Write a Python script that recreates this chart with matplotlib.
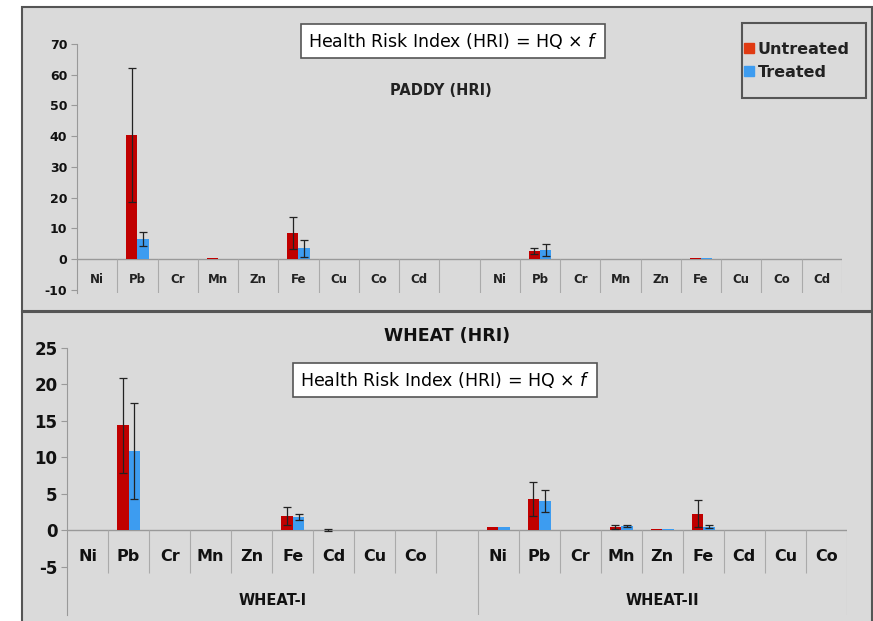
import numpy as np
import matplotlib
matplotlib.use("Agg")
import matplotlib.pyplot as plt
from matplotlib.patches import Rectangle, Patch

plt.rcParams['axes.unicode_minus'] = False

# ---- data ----
paddy_labels = ['Ni', 'Pb', 'Cr', 'Mn', 'Zn', 'Fe', 'Cu', 'Co', 'Cd']
paddy1_untreated = [0, 40.5, 0.1, 0.3, 0.1, 8.5, 0.1, 0, 0]
paddy1_untreated_err = [0, 21.8, 0, 0, 0, 5.2, 0, 0, 0]
paddy1_treated = [0, 6.7, 0.05, 0.2, 0.1, 3.5, 0, 0, 0]
paddy1_treated_err = [0, 2.3, 0, 0, 0, 2.7, 0, 0, 0]
paddy2_untreated = [0.1, 2.7, 0, 0.1, 0.1, 0.5, 0, 0, 0]
paddy2_untreated_err = [0, 1.0, 0, 0, 0, 0, 0, 0, 0]
paddy2_treated = [0.1, 2.9, 0, 0.1, 0.1, 0.3, 0, 0, 0]
paddy2_treated_err = [0, 1.9, 0, 0, 0, 0, 0, 0, 0]

wheat_labels = ['Ni', 'Pb', 'Cr', 'Mn', 'Zn', 'Fe', 'Cd', 'Cu', 'Co']
wheat_groups = ['WHEAT-I', 'WHEAT-II']
wheat1_untreated = [0, 14.4, 0, 0.05, 0.1, 2.0, 0.05, 0, 0]
wheat1_untreated_err = [0, 6.5, 0, 0, 0, 1.2, 0.2, 0, 0]
wheat1_treated = [0, 10.9, 0, 0.05, 0.1, 1.8, 0, 0, 0]
wheat1_treated_err = [0, 6.6, 0, 0, 0, 0.4, 0, 0, 0]
wheat2_untreated = [0.5, 4.3, 0, 0.5, 0.15, 2.3, 0, 0, 0]
wheat2_untreated_err = [0, 2.3, 0, 0.3, 0, 1.8, 0, 0, 0]
wheat2_treated = [0.5, 4.0, 0, 0.6, 0.15, 0.5, 0, 0, 0]
wheat2_treated_err = [0, 1.5, 0, 0.2, 0, 0.2, 0, 0, 0]

RED = '#c00000'
BLUE = '#3d9cf0'
BG = '#dadada'
EDGE = '#555555'
FORMULA = r'Health Risk Index (HRI) = HQ $\times$ $\mathit{f}$'

W, H = 873, 621
fig = plt.figure(figsize=(W / 100, H / 100), dpi=100)


def px_rect(x0, y0, x1, y1):
    return [x0 / W, 1 - y1 / H, (x1 - x0) / W, (y1 - y0) / H]


def fig_box(x0, y0, x1, y1, face, lw, z):
    r = px_rect(x0, y0, x1, y1)
    fig.patches.append(Rectangle((r[0], r[1]), r[2], r[3], transform=fig.transFigure,
                                 facecolor=face, edgecolor=EDGE, lw=lw, zorder=z))


# panel backgrounds
fig_box(22, 7, 872, 311, BG, 1.5, -5)
fig_box(22, 312, 872, 630, BG, 1.5, -5)
# legend frame
fig_box(742, 23, 866, 98, 'none', 1.5, 1)


def draw_bars(ax, untr, untr_err, tr, tr_err, offset):
    w = 0.28
    x = np.arange(len(untr)) + offset + 0.5
    ax.bar(x - w / 2, untr, w, color=RED, zorder=3)
    ax.bar(x + w / 2, tr, w, color=BLUE, zorder=3)
    for xs, v, e in [(x - w / 2, untr, untr_err), (x + w / 2, tr, tr_err)]:
        v = np.array(v); e = np.array(e)
        m = e > 0
        ax.errorbar(xs[m], v[m], yerr=e[m], fmt='none', ecolor='#222222',
                    elinewidth=0.9, capsize=3, capthick=0.9, zorder=4)


def style_axis(ax, ylim, yticks, fs):
    ax.set_facecolor('none')
    ax.set_xlim(0, 19)
    ax.set_ylim(*ylim)
    ax.set_yticks(list(yticks), labels=[str(v) for v in yticks],
                  fontweight='bold', fontsize=fs, color='#111111')
    ax.set_xticks([])
    for s in ['top', 'right', 'bottom']:
        ax.spines[s].set_visible(False)
    ax.spines['left'].set_color('#999999')
    ax.tick_params(axis='y', length=4, color='#999999', pad=3)
    ax.axhline(0, color='#999999', lw=1, zorder=2)


# ---- top panel: paddy ----
ax1 = fig.add_axes(px_rect(77, 44, 842, 293))
style_axis(ax1, (-11, 70), range(-10, 71, 10), 9)
draw_bars(ax1, paddy1_untreated, paddy1_untreated_err, paddy1_treated, paddy1_treated_err, 0)
draw_bars(ax1, paddy2_untreated, paddy2_untreated_err, paddy2_treated, paddy2_treated_err, 10)
ax1.vlines(np.arange(1, 20), -11, 0, color='#aaaaaa', lw=0.8)
for i, lab in enumerate(paddy_labels):
    for off in (0, 10):
        ax1.text(i + off + 0.5, -6.5, lab, ha='center', va='center',
                 fontsize=8.5, fontweight='bold', color='#222222')
ax1.text(0.475, 0.815, 'PADDY (HRI)', transform=ax1.transAxes, ha='center', va='center',
         fontsize=10.5, fontweight='bold', color='#222222')
fig.text(453 / W, 1 - 41 / H, FORMULA, ha='center', va='center', fontsize=12.5,
         bbox=dict(boxstyle='square,pad=0.4', facecolor='white', edgecolor=EDGE, lw=1.2))

handles = [Patch(color='#e03a12', label='Untreated'), Patch(color=BLUE, label='Treated')]
leg = fig.legend(handles=handles, loc='center left', bbox_to_anchor=(744 / W, 1 - 61 / H),
                 frameon=False, borderaxespad=0, borderpad=0, handlelength=0.6,
                 handleheight=0.6, handletextpad=0.25, labelspacing=0.5,
                 prop={'weight': 'bold', 'size': 11.5})
for t in leg.get_texts():
    t.set_color('#222222')

# ---- bottom panel: wheat ----
ax2 = fig.add_axes(px_rect(67, 348, 847, 615))
style_axis(ax2, (-11.6, 25), range(-5, 26, 5), 12)
draw_bars(ax2, wheat1_untreated, wheat1_untreated_err, wheat1_treated, wheat1_treated_err, 0)
draw_bars(ax2, wheat2_untreated, wheat2_untreated_err, wheat2_treated, wheat2_treated_err, 10)
short = [i for i in range(1, 19) if i != 10]
ax2.vlines(short, -5.9, 0, color='#aaaaaa', lw=0.8)
ax2.vlines([10, 19], -11.6, 0, color='#aaaaaa', lw=0.8)
for i, lab in enumerate(wheat_labels):
    for off in (0, 10):
        ax2.text(i + off + 0.5, -3.6, lab, ha='center', va='center',
                 fontsize=11.5, fontweight='bold', color='#111111')
ax2.text(5, -9.6, wheat_groups[0], ha='center', va='center', fontsize=10.5,
         fontweight='bold', color='#111111')
ax2.text(14.5, -9.6, wheat_groups[1], ha='center', va='center', fontsize=10.5,
         fontweight='bold', color='#111111')
fig.text(447 / W, 1 - 336 / H, 'WHEAT (HRI)', ha='center', va='center',
         fontsize=12.5, fontweight='bold', color='#111111')
fig.text(445 / W, 1 - 380 / H, FORMULA, ha='center', va='center', fontsize=12.5,
         bbox=dict(boxstyle='square,pad=0.4', facecolor='white', edgecolor=EDGE, lw=1.2))

fig.savefig('out.png', dpi=100)
